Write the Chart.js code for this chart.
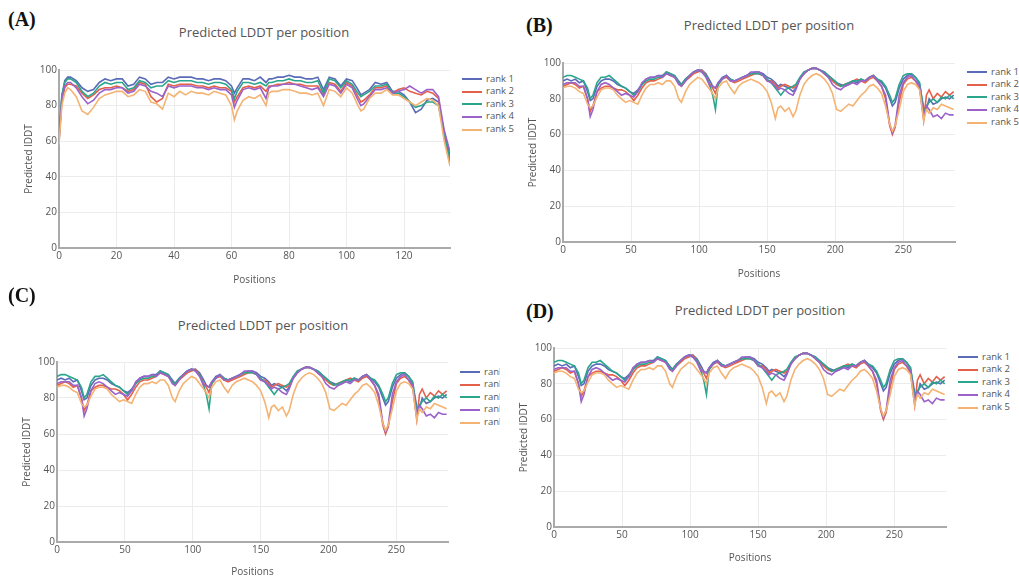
<!DOCTYPE html>
<html>
<head>
<meta charset="utf-8">
<script src="https://cdn.jsdelivr.net/npm/chart.js@4.4.1/dist/chart.umd.min.js"></script>
<style>
  body { margin: 0; background: #fff; font-family: "Open Sans", sans-serif; }
  #page { position: relative; width: 1019px; height: 578px; overflow: hidden; background: #fff; }
  canvas { position: absolute; }
  .tag { position: absolute; font-family: "Liberation Serif", serif; font-weight: bold; font-size: 20px; line-height: 20px; color: #111; }
  .ttl { position: absolute; transform: translate(-50%, -50%); font-size: 13px; color: #555; white-space: nowrap; }
  .lgd { position: absolute; overflow: hidden; font-size: 9.5px; color: #555; }
  .lgd div { height: 12.6px; line-height: 12.6px; white-space: nowrap; }
  .lgd span { display: inline-block; width: 20px; height: 2px; vertical-align: middle; margin-right: 4px; }
</style>
</head>
<body>
<div id="page"></div>
<script>
const rankLabels = ['rank 1', 'rank 2', 'rank 3', 'rank 4', 'rank 5'];
const rankColors = ['#5a6cb8', '#e5604b', '#2ba58b', '#9b62c9', '#f4b372'];

// panel A, 136 residues
const posA = [
  0, 1, 2, 3, 4, 6, 8, 10, 12, 14,
  16, 18, 20, 22, 24, 26, 28, 30, 32, 34,
  36, 38, 40, 42, 44, 46, 48, 50, 52, 54,
  56, 58, 60, 61, 62, 64, 66, 68, 70, 72,
  73, 74, 76, 78, 80, 82, 84, 86, 88, 90,
  92, 94, 96, 98, 100, 102, 104, 105, 106, 108,
  110, 112, 114, 116, 118, 120, 122, 124, 126, 128,
  130, 132, 134, 136
];
const rank1A = [
  60, 85, 94, 96, 96, 94, 90, 88, 89, 93,
  95, 94, 95, 95, 91, 92, 96, 95, 92, 93,
  93, 96, 95, 96, 96, 96, 95, 95, 94, 95,
  95, 94, 91, 87, 90, 95, 95, 94, 96, 93,
  95, 95, 96, 96, 97, 96, 96, 95, 95, 96,
  89, 96, 95, 91, 95, 94, 89, 86, 87, 89,
  93, 92, 93, 88, 88, 86, 82, 76, 78, 83,
  84, 82, 65, 52
];
const rank2A = [
  62, 82, 90, 92, 92, 91, 87, 84, 86, 89,
  90, 90, 91, 90, 88, 89, 93, 92, 85, 82,
  84, 92, 91, 92, 92, 92, 91, 91, 90, 91,
  90, 90, 88, 82, 85, 90, 91, 90, 91, 88,
  91, 91, 92, 92, 93, 92, 92, 91, 91, 91,
  86, 93, 92, 88, 93, 91, 85, 82, 83, 86,
  90, 90, 91, 87, 89, 90, 88, 87, 86, 88,
  87, 84, 62, 48
];
const rank3A = [
  64, 86, 93, 95, 95, 93, 88, 85, 87, 91,
  93, 92, 93, 93, 89, 90, 94, 93, 90, 91,
  91, 94, 93, 94, 94, 94, 93, 93, 92, 93,
  93, 92, 89, 84, 88, 93, 93, 92, 93, 91,
  93, 93, 94, 94, 95, 94, 94, 93, 93, 94,
  87, 95, 94, 90, 94, 92, 87, 85, 86, 88,
  91, 91, 92, 87, 87, 85, 82, 79, 80, 82,
  82, 80, 64, 50
];
const rank4A = [
  60, 84, 91, 93, 93, 90, 85, 81, 83, 87,
  89, 89, 90, 90, 87, 88, 92, 91, 88, 87,
  85, 91, 90, 91, 91, 91, 90, 90, 89, 90,
  89, 89, 86, 79, 83, 89, 90, 89, 90, 84,
  90, 91, 91, 92, 92, 92, 91, 90, 89, 90,
  85, 92, 91, 87, 92, 90, 83, 80, 81, 85,
  89, 89, 90, 87, 88, 89, 91, 89, 87, 89,
  89, 85, 66, 54
];
const rank5A = [
  58, 80, 87, 90, 89, 85, 77, 75, 79, 84,
  86, 87, 88, 88, 85, 86, 89, 88, 82, 81,
  78, 87, 85, 88, 86, 88, 87, 87, 86, 88,
  87, 86, 80, 72, 77, 83, 85, 84, 86, 80,
  87, 88, 88, 89, 89, 88, 87, 87, 86, 87,
  80, 89, 88, 85, 90, 87, 80, 77, 78, 84,
  87, 87, 89, 86, 86, 84, 82, 80, 82, 84,
  83, 80, 60, 46
];

// panels B, C, D, 288 residues (same profile in all three)
const posB = [
  0, 3, 6, 9, 12, 15, 18, 20, 22, 25,
  28, 31, 34, 37, 40, 43, 46, 49, 52, 55,
  58, 61, 64, 67, 70, 73, 76, 79, 82, 85,
  87, 90, 93, 96, 99, 102, 105, 108, 110, 112,
  114, 117, 120, 123, 126, 129, 132, 135, 138, 141,
  144, 147, 150, 153, 156, 158, 160, 163, 166, 169,
  171, 174, 177, 180, 183, 186, 189, 192, 195, 198,
  201, 204, 207, 210, 213, 216, 219, 222, 225, 228,
  231, 234, 237, 240, 242, 244, 247, 250, 253, 256,
  259, 262, 265, 267, 269, 272, 275, 278, 281, 284,
  287
];
const rank1B = [
  90, 91, 90, 91, 89, 90, 84, 79, 80, 87,
  90, 91, 91, 90, 88, 87, 86, 84, 83, 85,
  88, 91, 92, 92, 93, 93, 95, 94, 93, 90,
  88, 91, 93, 95, 96, 96, 94, 90, 87, 86,
  89, 92, 93, 91, 90, 91, 92, 93, 94, 95,
  95, 94, 92, 91, 89, 87, 88, 87, 86, 84,
  86, 91, 94, 96, 97, 97, 96, 95, 93, 91,
  89, 88, 87, 88, 90, 89, 91, 90, 92, 93,
  91, 89, 86, 80, 76, 78, 86, 91, 93, 94,
  92, 88, 75, 74, 80, 77, 78, 80, 81, 80,
  82
];
const rank2B = [
  87, 88, 89, 88, 86, 87, 80, 73, 76, 84,
  86, 87, 87, 86, 85, 85, 84, 82, 79, 82,
  86, 89, 90, 90, 91, 92, 94, 93, 92, 89,
  87, 90, 92, 94, 95, 96, 93, 88, 86, 83,
  88, 91, 92, 90, 89, 90, 91, 92, 93, 94,
  94, 93, 90, 90, 88, 86, 87, 88, 87, 86,
  87, 91, 94, 96, 97, 97, 96, 94, 92, 90,
  88, 87, 88, 89, 90, 91, 90, 89, 91, 92,
  90, 87, 80, 65, 60, 64, 78, 88, 91, 92,
  90, 86, 68, 82, 85, 80, 83, 81, 84, 82,
  84
];
const rank3B = [
  92, 93, 93, 92, 91, 90, 86, 80, 82, 89,
  92, 92, 93, 91, 89, 87, 86, 84, 82, 84,
  88, 90, 91, 91, 92, 92, 95, 94, 93, 89,
  88, 91, 93, 95, 96, 95, 93, 87, 82, 74,
  88, 91, 93, 91, 90, 91, 92, 93, 94, 94,
  94, 93, 91, 89, 86, 84, 82, 85, 86, 87,
  88, 92, 95, 96, 97, 97, 96, 95, 93, 91,
  89, 87, 88, 89, 90, 90, 91, 90, 92, 93,
  91, 90, 87, 82, 78, 80, 88, 93, 94, 94,
  92, 89, 72, 76, 78, 80, 78, 81, 80, 82,
  80
];
const rank4B = [
  88, 89, 89, 89, 87, 87, 80, 70, 74, 84,
  88, 89, 88, 86, 84, 82, 83, 82, 81, 84,
  89, 91, 92, 92, 93, 92, 94, 93, 92, 88,
  87, 90, 93, 95, 96, 95, 92, 87, 87, 86,
  89, 91, 93, 90, 90, 91, 92, 93, 95, 95,
  95, 93, 90, 89, 87, 85, 86, 85, 83, 82,
  85, 91, 94, 96, 97, 97, 96, 94, 92, 88,
  86, 85, 87, 88, 89, 88, 90, 90, 92, 93,
  90, 87, 82, 66, 61, 65, 82, 89, 92, 93,
  90, 87, 70, 76, 74, 70, 71, 69, 72, 71,
  71
];
const rank5B = [
  86, 87, 87, 86, 84, 83, 77, 75, 76, 81,
  85, 86, 86, 85, 82, 80, 78, 79, 78, 77,
  82, 86, 88, 88, 89, 88, 90, 90, 87, 80,
  78, 84, 88, 90, 92, 91, 88, 85, 83, 80,
  86, 89, 90, 86, 83, 87, 89, 90, 91, 90,
  89, 87, 84, 78, 69, 75, 76, 73, 75, 70,
  73, 82, 88, 91, 93, 94, 93, 91, 88, 83,
  74, 73, 75, 77, 76, 79, 82, 84, 87, 88,
  86, 83, 76, 66, 62, 65, 74, 84, 88, 89,
  88, 85, 68, 74, 72, 75, 74, 77, 76, 75,
  74
];

const yTicks = [0, 20, 40, 60, 80, 100];

const panels = [
  { tag: '(A)', tagX: 8, tagY: 9, titleX: 264, titleY: 32,
    plot: { l: 59, r: 450, t: 70, b: 248 }, xAxisH: 38,
    xMax: 136, xStep: 20, pos: posA, series: [rank1A, rank2A, rank3A, rank4A, rank5A],
    legend: { x: 462, y: 79, w: 54 } },
  { tag: '(B)', tagX: 526, tagY: 15, titleX: 769, titleY: 25,
    plot: { l: 563, r: 955, t: 63, b: 242 }, xAxisH: 38,
    xMax: 288, xStep: 50, pos: posB, series: [rank1B, rank2B, rank3B, rank4B, rank5B],
    legend: { x: 967, y: 72, w: 52 } },
  { tag: '(C)', tagX: 8, tagY: 285, titleX: 263, titleY: 325,
    plot: { l: 57, r: 448, t: 362, b: 542 }, xAxisH: 36,
    xMax: 288, xStep: 50, pos: posB, series: [rank1B, rank2B, rank3B, rank4B, rank5B],
    legend: { x: 460, y: 372, w: 40 } },
  { tag: '(D)', tagX: 526, tagY: 301, titleX: 760, titleY: 310,
    plot: { l: 554, r: 946, t: 348, b: 527 }, xAxisH: 37,
    xMax: 288, xStep: 50, pos: posB, series: [rank1B, rank2B, rank3B, rank4B, rank5B],
    legend: { x: 958, y: 357, w: 60 } }
];

const page = document.getElementById('page');
const Y_AXIS_W = 36;
const PAD = 8;

function addDiv(cls, text, left, top) {
    const d = document.createElement('div');
    d.className = cls;
    d.textContent = text;
    d.style.left = left + 'px';
    d.style.top = top + 'px';
    page.appendChild(d);
    return d;
}

panels.forEach(p => {
    addDiv('tag', p.tag, p.tagX, p.tagY);
    addDiv('ttl', 'Predicted LDDT per position', p.titleX, p.titleY);

    // legend
    const lg = addDiv('lgd', '', p.legend.x, p.legend.y - 6.3);
    lg.style.width = p.legend.w + 'px';
    rankLabels.forEach((lab, i) => {
        const row = document.createElement('div');
        const sw = document.createElement('span');
        sw.style.background = rankColors[i];
        row.appendChild(sw);
        row.appendChild(document.createTextNode(lab));
        lg.appendChild(row);
    });

    // canvas sized so the chart area lands on the plot box
    const cv = document.createElement('canvas');
    const left = p.plot.l - Y_AXIS_W;
    const top = p.plot.t - PAD;
    const w = p.plot.r + PAD - left;
    const h = p.plot.b + p.xAxisH - top;
    cv.width = w;
    cv.height = h;
    cv.style.left = left + 'px';
    cv.style.top = top + 'px';
    cv.style.width = w + 'px';
    cv.style.height = h + 'px';
    page.appendChild(cv);

    new Chart(cv, {
        type: 'line',
        data: {
            datasets: p.series.map((vals, i) => ({
                label: rankLabels[i],
                data: p.pos.map((x, k) => ({ x: x, y: vals[k] })),
                borderColor: rankColors[i],
                backgroundColor: rankColors[i],
                borderWidth: 1.6,
                pointRadius: 0,
                tension: 0,
                fill: false
            })).reverse()
        },
        options: {
            responsive: false,
            animation: false,
            layout: { padding: { top: PAD, right: PAD, left: 0, bottom: 0 } },
            plugins: {
                legend: { display: false },
                title: { display: false },
                tooltip: { enabled: false }
            },
            scales: {
                x: {
                    type: 'linear',
                    min: 0,
                    max: p.xMax,
                    afterFit: s => { s.height = p.xAxisH; },
                    grid: { color: '#ececec', drawTicks: false },
                    border: { color: '#aaa', width: 2 },
                    ticks: {
                        stepSize: p.xStep,
                        includeBounds: false,
                        padding: 2,
                        maxRotation: 0,
                        color: '#555',
                        font: { family: 'Open Sans', size: 10 }
                    },
                    title: {
                        display: true,
                        text: 'Positions',
                        padding: 0,
                        color: '#555',
                        font: { family: 'Open Sans', size: 10 }
                    }
                },
                y: {
                    min: 0,
                    max: 100,
                    afterFit: s => { s.width = Y_AXIS_W; },
                    afterBuildTicks: s => { s.ticks = yTicks.map(v => ({ value: v })); },
                    grid: { color: '#ececec', drawTicks: false },
                    border: { color: '#aaa', width: 2 },
                    ticks: {
                        padding: 2,
                        color: '#555',
                        font: { family: 'Open Sans', size: 10 }
                    },
                    title: {
                        display: true,
                        text: 'Predicted lDDT',
                        padding: 0,
                        color: '#555',
                        font: { family: 'Open Sans', size: 10 }
                    }
                }
            }
        }
    });
});
</script>
</body>
</html>
